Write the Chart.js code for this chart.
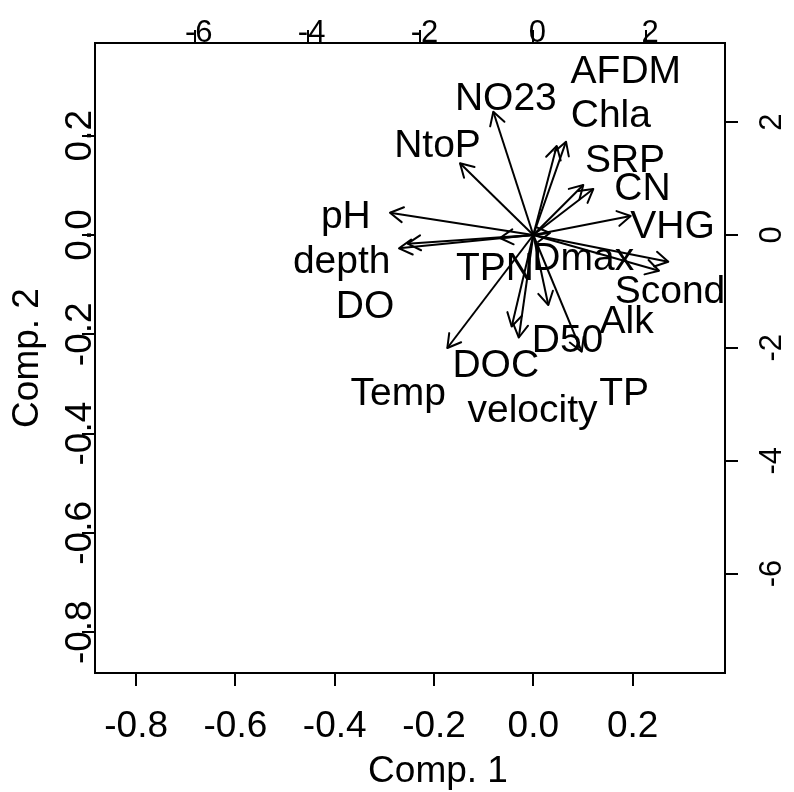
<!DOCTYPE html>
<html>
<head>
<meta charset="utf-8">
<script src="https://cdn.jsdelivr.net/npm/chart.js@4.4.0/dist/chart.umd.min.js"></script>
<style>
html,body{margin:0;padding:0;background:#fff;}
canvas{display:block;}
</style>
</head>
<body>
<canvas id="c" width="794" height="792"></canvas>
<script>
// ---- data (loadings, in the top/right axis units) ----
const arrowNames = ["NO23","NtoP","Chla","AFDM","SRP","CN","VHG","Scond","Alk","pH","depth","DO","TPN","Dmax","Temp","DOC","velocity","D50","TP"];
const arrowX = [-0.709,-1.299,0.415,0.580,0.886,1.063,1.726,2.393,2.228,-2.540,-2.380,-2.228,-0.590,0.296,-1.524,-0.383,-0.257,0.266,0.858];
const arrowY = [2.185,1.271,1.577,1.654,0.886,0.815,0.337,-0.473,-0.633,0.395,-0.236,-0.154,-0.053,0.035,-2.003,-1.622,-1.817,-1.241,-2.068];

const labelNames = ["AFDM","NO23","Chla","NtoP","SRP","CN","pH","VHG","depth","TPN","Dmax","Scond","DO","Alk","D50","DOC","Temp","velocity","TP"];
const labelX = [1.640,-0.487,1.374,-1.698,1.625,1.935,-3.323,2.467,-3.396,-0.679,0.886,2.423,-2.983,1.655,0.606,-0.665,-2.393,-0.014,1.611];
const labelY = [2.937,2.464,2.168,1.636,1.370,0.868,0.367,0.190,-0.431,-0.549,-0.372,-0.962,-1.228,-1.494,-1.820,-2.263,-2.765,-3.061,-2.765];

const xTicks = [-0.8,-0.6,-0.4,-0.2,0.0,0.2];
const xTickLabels = ["-0.8","-0.6","-0.4","-0.2","0.0","0.2"];
const yTicks = [-0.8,-0.6,-0.4,-0.2,0.0,0.2];
const yTickLabels = ["-0.8","-0.6","-0.4","-0.2","0.0","0.2"];
const x2Ticks = [-6,-4,-2,0,2];
const x2TickLabels = ["-6","-4","-2","0","2"];
const y2Ticks = [-6,-4,-2,0,2];
const y2TickLabels = ["-6","-4","-2","0","2"];

const xLim = [-0.8828, 0.3861];
const yLim = [-0.8822, 0.3867];
const ratio = 8.8;

const xTitle = "Comp. 1";
const yTitle = "Comp. 2";

// ---- chart ----
const FONT = '"Liberation Sans", Arial, Helvetica, sans-serif';

const datasets = arrowNames.map((n,i)=>({
  label: n,
  data: [{x:0,y:0},{x:arrowX[i],y:arrowY[i]}],
  showLine: true,
  borderColor: '#000',
  borderWidth: 2,
  pointRadius: 0,
  pointHoverRadius: 0,
  fill: false,
  xAxisID: 'x2',
  yAxisID: 'y2'
}));

function axisCommon(pos, tickVals, size){
  return {
    type: 'linear',
    position: pos,
    grid: {display: true, drawOnChartArea: false, drawTicks: true, tickLength: 13, color: '#000', lineWidth: 2},
    border: {display: true, color: '#000', width: 2},
    ticks: {display: false},
    afterBuildTicks: (s)=>{ s.ticks = tickVals.map(v=>({value:v})); },
    afterFit: (s)=>{ if (pos==='top'||pos==='bottom') s.height = size; else s.width = size; }
  };
}

const scales = {
  x: Object.assign(axisCommon('bottom', xTicks, 119), {axis:'x', min: xLim[0], max: xLim[1]}),
  y: Object.assign(axisCommon('left', yTicks, 95), {axis:'y', min: yLim[0], max: yLim[1]}),
  x2: Object.assign(axisCommon('top', x2Ticks, 43), {axis:'x', min: xLim[0]*ratio, max: xLim[1]*ratio}),
  y2: Object.assign(axisCommon('right', y2Ticks, 69), {axis:'y', min: yLim[0]*ratio, max: yLim[1]*ratio})
};

const biplotPlugin = {
  id: 'biplot',
  afterDatasetsDraw(chart){
    const ctx = chart.ctx;
    const sx = chart.scales.x2, sy = chart.scales.y2;
    ctx.save();
    ctx.strokeStyle = '#000';
    ctx.lineWidth = 2;
    ctx.lineCap = 'round';
    ctx.lineJoin = 'round';
    chart.data.datasets.forEach((ds,i)=>{
      const meta = chart.getDatasetMeta(i);
      const p0 = meta.data[0], p1 = meta.data[1];
      const ang = Math.atan2(p1.y-p0.y, p1.x-p0.x);
      const L = 15, a = Math.PI/6;
      ctx.beginPath();
      ctx.moveTo(p1.x - L*Math.cos(ang-a), p1.y - L*Math.sin(ang-a));
      ctx.lineTo(p1.x, p1.y);
      ctx.lineTo(p1.x - L*Math.cos(ang+a), p1.y - L*Math.sin(ang+a));
      ctx.stroke();
    });
    ctx.fillStyle = '#000';
    ctx.font = '39px ' + FONT;
    ctx.textAlign = 'center';
    ctx.textBaseline = 'alphabetic';
    labelNames.forEach((n,i)=>{
      ctx.fillText(n, sx.getPixelForValue(labelX[i]), sy.getPixelForValue(labelY[i]) + 14);
    });
    ctx.restore();
  },
  afterDraw(chart){
    const ctx = chart.ctx;
    const S = chart.scales;
    const ca = chart.chartArea;
    ctx.save();
    ctx.fillStyle = '#000';
    ctx.textAlign = 'center';
    ctx.textBaseline = 'alphabetic';
    // bottom
    ctx.font = '37px ' + FONT;
    xTicks.forEach((v,i)=> ctx.fillText(xTickLabels[i], S.x.getPixelForValue(v), ca.bottom + 64));
    // left (rotated)
    yTicks.forEach((v,i)=>{
      ctx.save();
      ctx.translate(ca.left - 4, S.y.getPixelForValue(v));
      ctx.rotate(-Math.PI/2);
      ctx.fillText(yTickLabels[i], 0, 0);
      ctx.restore();
    });
    // top
    ctx.font = '31px ' + FONT;
    x2Ticks.forEach((v,i)=> ctx.fillText(x2TickLabels[i], S.x2.getPixelForValue(v) + 4, ca.top - 1));
    // right (rotated)
    y2Ticks.forEach((v,i)=>{
      ctx.save();
      ctx.translate(ca.right + 56, S.y2.getPixelForValue(v));
      ctx.rotate(-Math.PI/2);
      ctx.fillText(y2TickLabels[i], 0, 0);
      ctx.restore();
    });
    // titles
    ctx.font = '37px ' + FONT;
    ctx.fillText(xTitle, 438, ca.bottom + 109);
    ctx.save();
    ctx.translate(38, (ca.top + ca.bottom)/2);
    ctx.rotate(-Math.PI/2);
    ctx.fillText(yTitle, 0, 0);
    ctx.restore();
    ctx.restore();
  }
};

new Chart(document.getElementById('c'), {
  type: 'scatter',
  data: {datasets},
  options: {
    responsive: false,
    animation: false,
    devicePixelRatio: 1,
    layout: {padding: 0},
    plugins: {legend: {display: false}, tooltip: {enabled: false}, title: {display: false}},
    scales
  },
  plugins: [biplotPlugin]
});
</script>
</body>
</html>
